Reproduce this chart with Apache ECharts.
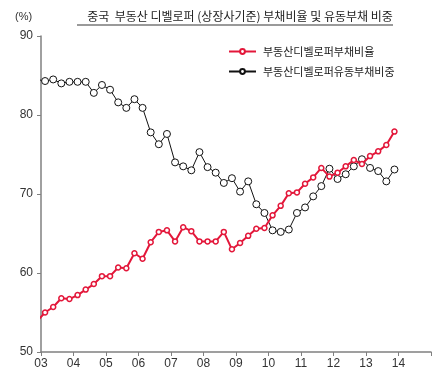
<!DOCTYPE html>
<html><head><meta charset="utf-8">
<script src="https://cdn.jsdelivr.net/npm/echarts@6/dist/echarts.min.js"></script>
<style>html,body{margin:0;padding:0;background:#fff;}#c{width:439px;height:381px;}</style>
</head><body><div id="c"></div>
<script>
// Quarterly periods 2002Q4 .. 2013Q4
const quarters = ['2002Q4',
 '2003Q1','2003Q2','2003Q3','2003Q4','2004Q1','2004Q2','2004Q3','2004Q4',
 '2005Q1','2005Q2','2005Q3','2005Q4','2006Q1','2006Q2','2006Q3','2006Q4',
 '2007Q1','2007Q2','2007Q3','2007Q4','2008Q1','2008Q2','2008Q3','2008Q4',
 '2009Q1','2009Q2','2009Q3','2009Q4','2010Q1','2010Q2','2010Q3','2010Q4',
 '2011Q1','2011Q2','2011Q3','2011Q4','2012Q1','2012Q2','2012Q3','2012Q4',
 '2013Q1','2013Q2','2013Q3','2013Q4'];
const debtRatio = [53.9,
 55.0,55.7,56.8,56.7,57.2,57.9,58.6,59.6,
 59.6,60.7,60.6,62.5,61.8,63.9,65.2,65.4,
 64.0,65.8,65.3,64.0,64.0,64.0,65.2,63.0,
 63.8,64.7,65.6,65.7,67.3,68.5,70.1,70.2,
 71.3,72.1,73.3,72.2,72.7,73.5,74.3,73.8,
 74.8,75.4,76.2,77.9];
const currentShare = [84.5,
 84.3,84.5,84.0,84.2,84.2,84.2,82.8,83.8,
 83.2,81.6,80.9,82.0,80.9,77.8,76.3,77.6,
 74.0,73.5,73.0,75.3,73.4,72.7,71.4,72.0,
 70.3,71.6,68.7,67.6,65.4,65.2,65.5,67.6,
 68.3,69.7,71.0,73.2,71.9,72.5,73.5,74.4,
 73.3,72.9,71.6,73.1];
const seriesNames = ['부동산디벨로퍼부채비율','부동산디벨로퍼유동부채비중'];
const titleText = '중국  부동산 디벨로퍼 (상장사기준) 부채비율 및 유동부채 비중';
const yTicks = [50,60,70,80,90];
const xTickYears = [2003,2004,2005,2006,2007,2008,2009,2010,2011,2012,2013,2014];

function qToT(q){ const y=+q.slice(0,4), n=+q.slice(5); return y + (n-0.5)/4; }
const redData = quarters.map((q,i)=>[qToT(q), debtRatio[i]]);
const blackData = quarters.map((q,i)=>[qToT(q), currentShare[i]]);

const FONT = "'Liberation Sans', Arial, 'Noto Sans CJK KR', sans-serif";
const KFONT = "'Noto Sans CJK KR', sans-serif";
const chart = echarts.init(document.getElementById('c'), null, {renderer:'canvas'});
chart.setOption({
  backgroundColor:'#fff',
  animation:false,
  textStyle:{fontFamily:FONT},
  title:{
    text:titleText, left:235, top:5, textAlign:'center',
    textStyle:{fontSize:12, fontWeight:'normal', color:'#222', fontFamily:KFONT}
  },
  graphic:[
    {type:'line', shape:{x1:77,y1:25,x2:393,y2:25}, style:{stroke:'#9a9a9a', lineWidth:2}},
    {type:'text', left:15, top:11, style:{text:'(%)', fontSize:11, fill:'#333', fontFamily:FONT}}
  ],
  legend:{
    orient:'vertical', left:223, top:41, itemWidth:27, itemHeight:6, itemGap:9,
    textStyle:{fontSize:11, color:'#222', fontFamily:KFONT, padding:[0,0,0,2]},
    data:seriesNames
  },
  grid:{left:41, top:36, width:390, height:316},
  xAxis:{
    type:'value', min:2003, max:2015, interval:1,
    axisLine:{show:true, lineStyle:{color:'#808080', width:1.5}},
    axisTick:{show:true, length:4, lineStyle:{color:'#808080'}},
    splitLine:{show:false},
    axisLabel:{fontSize:12, color:'#333', margin:6, fontFamily:FONT,
      formatter:v=> xTickYears.includes(v) ? String(v%100).padStart(2,'0') : ''}
  },
  yAxis:{
    type:'value', min:yTicks[0], max:yTicks[yTicks.length-1], interval:10,
    axisLine:{show:true, lineStyle:{color:'#808080', width:1.5}},
    axisTick:{show:true, length:4, lineStyle:{color:'#808080'}},
    splitLine:{show:false},
    axisLabel:{fontSize:12, color:'#333', margin:8, fontFamily:FONT}
  },
  series:[
    {name:seriesNames[0], type:'line', data:redData, clip:true, z:3,
     symbol:'circle', symbolSize:5, showAllSymbol:true,
     lineStyle:{color:'#e3173a', width:2},
     itemStyle:{color:'#fff', borderColor:'#e3173a', borderWidth:1.5}},
    {name:seriesNames[1], type:'line', data:blackData, clip:true, z:2,
     symbol:'circle', symbolSize:7, showAllSymbol:true,
     lineStyle:{color:'#111', width:1},
     itemStyle:{color:'#fff', borderColor:'#111', borderWidth:1}}
  ]
});
</script></body></html>
